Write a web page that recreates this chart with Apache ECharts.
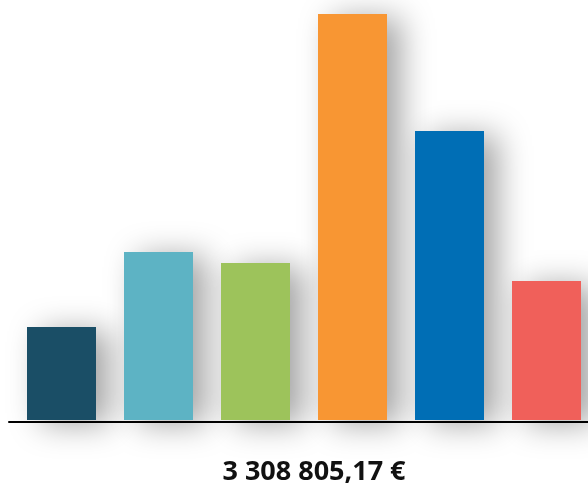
<!DOCTYPE html>
<html><head><meta charset="utf-8">
<script src="https://cdn.jsdelivr.net/npm/echarts@6/dist/echarts.min.js"></script>
<style>html,body{margin:0;padding:0;background:#fff}#c{width:588px;height:486px}</style>
</head><body><div id="c"></div>
<script>
const categories = ['A', 'B', 'C', 'D', 'E', 'F'];
const values = [245783, 443993, 414921, 1072976, 763764, 367368.17];
const colors = ['#1a4e66', '#5db3c4', '#9dc35b', '#f89633', '#006eb5', '#f0605a'];
const totalLabel = '3 308 805,17 €';

const chart = echarts.init(document.getElementById('c'), null, {renderer: 'canvas'});
chart.setOption({
  animation: false,
  grid: {left: 9, right: 0, top: 14, bottom: 66, containLabel: false},
  xAxis: {
    type: 'value', min: -0.5412, max: 5.4278, offset: 2,
    splitLine: {show: false},
    axisLine: {show: true, onZero: false, lineStyle: {color: '#000', width: 2}},
    axisTick: {show: false}, axisLabel: {show: false}
  },
  yAxis: {type: 'value', min: 0, max: 'dataMax', show: false, splitLine: {show: false}},
  series: [{
    type: 'bar',
    barWidth: 69,
    data: values.map((v, i) => ({name: categories[i], value: [i, v], itemStyle: {color: colors[i]}})),
    itemStyle: {
      shadowColor: 'rgba(0,0,0,0.36)', shadowBlur: 32, shadowOffsetX: 14, shadowOffsetY: 4
    }
  }],
  graphic: [{
    type: 'text', x: 314, y: 472,
    style: {text: totalLabel, font: 'bold 27px "Open Sans"', fill: '#111', textAlign: 'center', textVerticalAlign: 'middle'}
  }]
});
</script></body></html>
